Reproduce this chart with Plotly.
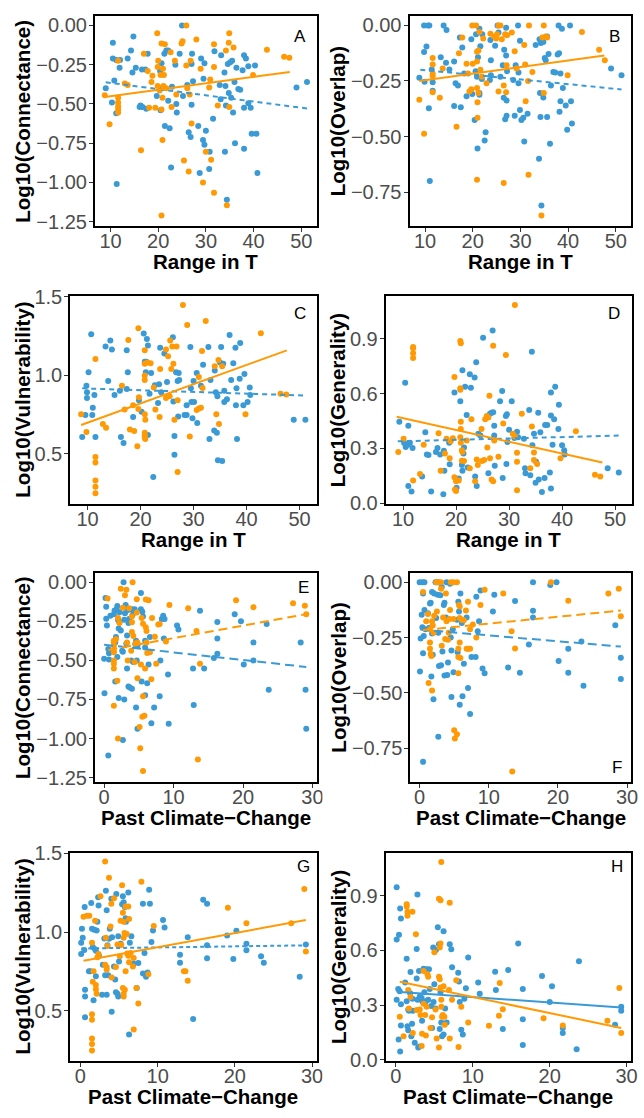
import plotly.graph_objects as go

BLUE = "#3A9AD6"
ORANGE = "#FF9A05"

# ---------------- data (x, y) ----------------
A_blue = [(9.0,-0.40),(10.5,-0.11),(10.5,-0.21),(11.2,-0.22),(10.8,-0.35),(10.3,-0.49),(11.2,-0.56),(11.3,-1.01),
(11.9,-0.27),(12.0,-0.22),(13.6,-0.21),(14.3,-0.16),(14.8,-0.07),(15.3,-0.27),(14.6,-0.30),(16.3,-0.51),(16.6,-0.28),
(16.1,-0.52),(17.3,-0.28),(17.8,-0.18),(17.5,-0.53),(19.7,-0.45),(20.4,-0.29),(20.7,-0.24),(20.5,-0.54),(20.7,-0.40),
(21.3,-0.18),(21.4,-0.64),(21.7,-0.16),(22.1,-0.48),(22.4,-0.655),(22.7,-0.905),(22.9,-0.39),(23.6,-0.25),(23.8,-0.50),
(23.9,-0.555),(24.5,-0.18),(25.0,0.0),(25.2,-0.45),(26.1,-0.38),(26.4,-0.68),(26.8,-0.71),(27.0,-0.505),(27.1,-0.18),
(27.3,-0.355),(27.0,-0.245),(28.4,-0.64),(28.7,-0.94),(29.0,-0.21),(29.4,-0.73),(29.7,-0.76),(30.0,-0.67),(29.7,-0.24),
(29.5,-0.34),(30.8,-0.805),(30.7,-0.915),(31.5,-0.595),(31.8,-0.165),(32.9,-0.38),(33.2,-0.19),(33.1,-0.47),(33.9,-0.30),
(34.1,-0.385),(34.0,-0.805),(34.2,-0.51),(34.4,-1.11),(34.6,-0.245),(34.8,-0.43),(35.1,-0.235),(35.3,-0.46),(35.5,-0.225),
(35.7,-0.555),(36.0,-0.36),(36.1,-0.75),(36.4,-0.27),(36.8,-0.405),(37.2,-0.41),(37.7,-0.285),(38.0,-0.19),(38.0,-0.525),
(38.0,-0.785),(38.4,-0.21),(38.9,-0.495),(39.4,-0.525),(39.6,-0.69),(40.6,-0.69),(40.3,-0.255),(40.8,-0.94),(38.9,-0.26),
(49.0,-0.395),(51.2,-0.36),(16.7,-0.52),(22.1,-0.16)]
A_orange = [(8.8,-0.445),(9.8,-0.63),(11.6,-0.46),(11.6,-0.515),(11.6,-0.535),(11.6,-0.555),(11.6,-0.49),(11.6,-0.225),
(13.0,-0.37),(13.6,-0.38),(16.4,-0.795),(17.0,-0.18),(17.8,-0.29),(18.1,-0.525),(18.6,-0.36),(18.8,-0.32),(19.4,-0.525),
(19.8,-0.05),(19.9,-0.265),(20.0,-0.225),(19.9,-0.385),(20.3,-0.415),(20.5,-0.315),(20.7,-0.115),(20.9,-0.73),(20.7,-1.21),
(20.7,-0.535),(20.9,-0.46),(21.0,-0.275),(21.4,-0.12),(21.2,-0.315),(21.1,-0.385),(21.7,-0.40),(22.6,-0.17),(22.8,-0.52),
(23.5,-0.225),(23.8,-0.44),(24.9,-0.115),(25.1,-0.10),(25.4,-0.86),(25.9,0.0),(25.9,-0.255),(26.1,-0.40),(26.4,-0.93),
(26.6,-0.44),(26.8,-0.225),(27.0,-0.625),(28.0,-0.09),(28.9,-0.275),(29.4,-1.0),(30.0,-0.805),(30.7,-0.395),(30.9,-0.345),
(31.1,-0.855),(31.7,-0.12),(31.7,-1.065),(31.7,-0.265),(32.5,-0.51),(34.2,-0.16),(34.4,-1.145),(34.8,-0.11),(34.9,-0.05),
(34.9,-0.52),(35.8,-0.14),(39.9,-0.315),(42.8,-0.155),(46.4,-0.20),(47.5,-0.205)]

B_blue = [(8.8,-0.235),(9.8,0),(10.6,0),(10.9,0),(9.8,-0.12),(10.3,-0.095),(9.9,-0.253),(10.8,-0.373),(11.0,-0.70),
(11.4,-0.198),(11.6,-0.256),(11.6,-0.294),(13.3,-0.143),(13.9,0),(14.5,-0.02),(14.4,-0.168),(15.1,-0.198),(16.1,-0.162),
(16.1,-0.363),(16.4,-0.26),(16.9,-0.27),(17.3,-0.054),(17.5,-0.368),(17.8,-0.099),(18.2,-0.216),(18.7,-0.319),(19.7,-0.062),
(19.9,-0.309),(20.4,-0.426),(20.7,-0.04),(20.6,-0.206),(20.9,-0.231),(21.0,-0.554),(21.1,-0.143),(21.4,-0.304),(21.4,-0.015),
(21.4,-0.312),(21.6,-0.094),(21.9,-0.241),(22.0,-0.04),(22.5,-0.518),(22.7,-0.481),(23.6,-0.246),(23.7,-0.065),(23.8,-0.157),
(23.8,-0.224),(24.7,-0.091),(25.2,0),(25.4,-0.032),(25.8,-0.231),(26.3,-0.179),(26.6,-0.109),(26.5,-0.326),(26.8,-0.422),
(27.0,-0.01),(27.1,-0.338),(27.0,-0.135),(27.2,-0.206),(27.1,-0.407),(28.5,-0.246),(28.8,-0.407),(29.0,-0.179),(29.5,0),
(29.6,-0.26),(29.6,-0.212),(29.9,-0.069),(29.9,-0.381),(30.2,-0.426),(30.6,-0.415),(30.8,-0.522),(31.5,-0.397),(33.2,-0.088),
(33.9,-0.60),(34.0,-0.062),(34.1,-0.304),(34.2,-0.412),(34.3,-0.079),(34.4,-0.81),(34.8,-0.324),(34.8,-0.074),(35.1,-0.147),
(35.3,-0.157),(35.6,-0.05),(35.6,-0.412),(35.9,-0.128),(36.2,-0.532),(36.4,-0.27),(36.9,-0.209),(37.3,-0.212),(37.8,-0.131),
(38.0,0),(38.1,-0.125),(38.2,-0.388),(38.4,-0.216),(38.4,-0.341),(38.7,-0.015),(38.9,-0.282),(39.5,-0.36),(39.8,-0.47),
(40.4,0),(40.6,-0.341),(40.8,-0.441),(49.0,-0.194),(51.2,-0.224)]
B_orange = [(8.8,-0.334),(9.8,-0.488),(11.6,-0.147),(11.6,-0.176),(11.6,-0.216),(11.6,-0.228),(11.6,-0.301),(13.1,-0.326),
(13.7,-0.194),(16.6,-0.456),(17.1,-0.125),(17.8,-0.054),(18.7,-0.172),(19.0,-0.216),(19.3,-0.297),(19.7,-0.287),(19.9,0),
(20.0,-0.172),(20.7,0),(20.9,-0.118),(20.9,-0.162),(20.9,-0.282),(21.0,-0.346),(21.0,-0.415),(20.9,-0.694),(21.2,-0.113),
(21.2,-0.304),(21.4,-0.029),(21.6,-0.199),(21.9,-0.231),(22.2,-0.059),(22.9,-0.26),(23.7,-0.037),(24.5,-0.05),(24.9,-0.059),
(25.1,-0.04),(25.4,0),(25.8,0),(25.4,-0.297),(26.1,-0.062),(26.5,-0.27),(26.5,-0.709),(26.8,-0.04),(27.1,-0.179),(27.2,-0.044),
(27.0,-0.301),(28.2,-0.032),(28.8,-0.116),(29.2,-0.194),(30.8,-0.088),(31.0,-0.176),(31.1,-0.341),(31.6,-0.25),(31.7,-0.672),
(31.8,0),(32.5,-0.209),(34.4,-0.856),(34.6,-0.054),(34.9,0),(34.9,-0.304),(35.3,-0.05),(35.6,-0.054),(39.9,-0.224),
(42.9,-0.029),(46.5,-0.109),(47.7,-0.157)]

C_blue = [(9.0,0.607),(9.6,0.747),(9.8,0.932),(9.9,0.891),(9.9,0.854),(10.2,1.019),(10.7,1.261),(10.9,0.747),(11.0,0.792),
(11.3,0.874),(11.5,0.607),(13.4,1.183),(13.9,0.963),(14.3,1.22),(14.6,1.163),(15.1,0.874),(16.1,0.901),(16.3,0.607),
(16.8,0.568),(17.4,1.158),(17.6,1.019),(17.4,0.912),(18.6,0.733),(19.7,0.84),(20.2,0.767),(20.6,1.265),(20.8,1.086),
(21.0,1.019),(21.1,1.086),(21.2,1.23),(21.4,1.189),(21.4,0.619),(21.7,0.881),(22.0,1.014),(22.4,0.352),(22.7,0.936),
(23.3,0.823),(23.5,0.942),(23.7,1.175),(23.9,0.891),(24.5,1.138),(25.0,0.957),(26.1,1.241),(26.2,0.833),(26.4,0.613),
(26.4,0.494),(26.7,1.019),(27.0,0.963),(27.1,0.737),(27.2,1.014),(27.3,0.969),(28.3,0.747),(28.7,0.747),(28.7,0.809),
(29.4,1.179),(29.5,0.916),(29.6,0.829),(29.8,0.726),(30.0,0.963),(30.1,0.829),(30.6,1.014),(30.7,0.695),(31.4,0.932),
(31.8,1.066),(32.8,1.179),(33.0,0.593),(33.2,0.969),(33.9,0.648),(34.0,1.029),(34.2,0.891),(34.4,0.634),(34.5,0.866),
(34.6,0.459),(35.0,1.08),(35.2,1.179),(35.4,0.453),(35.6,1.072),(35.8,0.901),(35.8,0.829),(36.3,0.846),(36.8,1.255),
(37.1,0.969),(37.5,1.076),(37.9,1.175),(38.0,0.809),(38.1,0.916),(38.2,0.593),(38.7,0.977),(38.8,1.204),(39.4,0.809),
(39.6,1.008),(40.2,0.829),(40.6,0.922),(40.7,0.874),(48.9,0.716),(51.1,0.716)]
C_orange = [(8.8,0.751),(9.8,0.638),(11.5,1.103),(11.5,0.479),(11.5,0.444),(11.5,0.329),(11.5,0.29),(11.5,0.249),
(12.9,0.689),(13.5,0.665),(16.5,0.932),(17.0,0.782),(17.7,1.224),(18.0,0.654),(18.8,0.644),(18.6,0.809),(19.4,0.547),
(19.6,1.298),(19.7,0.86),(19.6,0.784),(20.8,1.158),(20.8,1.072),(20.8,0.998),(20.8,0.969),(20.8,0.751),(20.9,0.716),
(20.8,0.634),(20.8,0.619),(20.8,0.603),(20.9,0.593),(21.3,1.08),(21.9,1.076),(22.5,0.922),(22.8,0.782),(23.7,1.039),
(23.6,0.733),(24.8,1.163),(24.8,0.854),(25.2,1.121),(25.5,0.866),(25.6,1.22),(25.8,1.039),(26.0,1.183),(26.2,1.072),
(26.4,0.716),(26.8,1.183),(27.0,0.84),(27.0,0.383),(28.0,1.446),(28.8,1.319),(29.3,0.609),(30.6,0.778),(31.0,0.788),
(31.0,0.988),(31.4,0.792),(31.6,1.154),(31.7,0.918),(32.3,1.344),(34.0,1.056),(34.3,0.751),(34.7,1.097),(34.8,0.689),
(35.4,1.056),(39.8,0.751),(42.7,1.267),(46.4,0.881),(47.5,0.877)]

D_blue = [(9.3,0.445),(10.2,0.329),(10.4,0.659),(10.5,0.307),(10.9,0.32),(11.0,0.423),(11.0,0.093),(11.3,0.33),(11.6,0.063),
(11.8,0.302),(13.6,0.146),(14.2,0.388),(14.5,0.266),(14.8,0.263),(15.3,0.063),(16.2,0.28),(16.5,0.302),(17.0,0.266),
(17.6,0.048),(17.7,0.286),(17.8,0.177),(18.7,0.33),(18.8,0.213),(19.7,0.605),(20.1,0.084),(20.5,0.134),(20.8,0.557),
(21.1,0.209),(21.2,0.177),(21.2,0.727),(21.5,0.304),(21.4,0.271),(21.7,0.637),(22.0,0.482),(22.2,0.195),(22.6,0.705),
(22.8,0.632),(23.5,0.688),(23.6,0.146),(23.8,0.771),(23.9,0.093),(24.2,0.379),(24.6,0.37),(25.1,0.905),(26.1,0.164),
(26.4,0.489),(26.7,0.495),(26.9,0.945),(27.0,0.498),(27.2,0.423),(27.2,0.37),(27.3,0.205),(28.3,0.557),(28.7,0.614),
(28.8,0.138),(29.4,0.477),(29.5,0.214),(29.6,0.486),(29.7,0.334),(30.0,0.402),(30.5,0.557),(31.0,0.357),(31.5,0.391),
(31.7,0.361),(32.8,0.352),(33.0,0.191),(33.1,0.164),(33.8,0.509),(34.0,0.152),(34.3,0.829),(34.4,0.316),(34.7,0.379),
(35.0,0.111),(35.1,0.227),(35.5,0.495),(35.6,0.129),(35.9,0.388),(36.2,0.061),(36.7,0.138),(36.8,0.427),(37.2,0.427),
(37.7,0.168),(37.9,0.48),(37.9,0.08),(37.9,0.605),(38.2,0.32),(38.5,0.459),(38.7,0.637),(39.3,0.405),(39.4,0.539),
(40.0,0.316),(40.4,0.289),(40.5,0.266),(48.6,0.191),(50.7,0.168)]
D_orange = [(9.1,0.28),(10.1,0.352),(11.9,0.855),(11.9,0.848),(11.9,0.82),(11.9,0.795),(11.9,0.123),(13.2,0.159),(13.9,0.32),
(16.7,0.382),(17.1,0.177),(17.9,0.271),(18.2,0.352),(18.8,0.245),(19.0,0.338),(19.4,0.355),(19.7,0.691),(19.7,0.141),
(19.8,0.075),(20.0,0.066),(20.0,0.12),(20.5,0.123),(20.8,0.888),(20.9,0.875),(20.8,0.629),(20.8,0.62),(20.9,0.445),
(20.9,0.405),(20.8,0.361),(20.9,0.33),(21.1,0.289),(21.2,0.28),(21.1,0.232),(21.5,0.23),(22.0,0.343),(22.6,0.191),
(22.9,0.459),(23.6,0.12),(23.9,0.239),(24.1,0.209),(24.8,0.405),(24.9,0.23),(25.3,0.236),(25.5,0.459),(25.8,0.477),
(25.9,0.304),(26.1,0.468),(26.3,0.588),(26.4,0.245),(26.7,0.129),(27.0,0.12),(27.0,0.861),(27.2,0.343),(28.0,0.254),
(28.9,0.436),(29.4,0.811),(30.7,0.379),(31.1,1.084),(31.1,0.364),(31.5,0.275),(31.5,0.227),(31.5,0.07),(32.4,0.489),
(34.0,0.191),(34.3,0.42),(34.7,0.277),(34.7,0.236),(35.3,0.214),(39.7,0.245),(42.6,0.393),(46.2,0.155),(47.2,0.146)]

E_blue = [(0.0,-0.49),(0.05,-0.71),(0.2,-0.10),(0.3,-0.156),(0.3,-0.233),(0.4,-0.277),(0.6,-0.427),(0.7,-0.454),(0.7,-0.494),
(0.6,-1.108),(0.9,-0.215),(1.4,-0.204),(1.5,-0.181),(1.6,-0.635),(1.8,-0.173),(1.6,-0.385),(1.7,-0.35),(1.9,-0.479),
(1.9,-0.152),(2.0,-0.24),(2.1,-0.296),(2.1,-0.74),(2.2,-0.256),(2.2,-0.192),(2.4,-0.308),(2.6,-0.4375),(2.7,-0.444),
(2.7,-1.01),(2.8,0.0),(2.9,-0.75),(2.9,-0.24),(3.0,-0.198),(3.1,-0.146),(3.2,-0.392),(3.3,-0.552),(3.3,-0.34),(3.4,-0.177),
(3.5,-0.26),(3.5,-0.667),(3.6,-0.235),(3.7,-0.173),(3.7,-0.673),(3.9,-0.5),(4.0,-0.681),(4.0,-0.173),(4.1,-0.208),
(4.2,-0.51),(4.4,-0.173),(4.5,-0.396),(4.6,-0.802),(4.6,-0.375),(4.7,-0.5),(4.8,-0.9375),(4.8,-0.406),(5.3,-0.069),
(5.3,-0.173),(5.4,-0.635),(5.5,-0.188),(5.6,-0.219),(5.9,-0.723),(5.9,-0.375),(5.9,-0.417),(6.2,-0.646),(6.4,-0.527),
(6.6,-0.35),(6.8,-0.902),(7.2,-0.802),(8.0,-0.729),(8.1,-0.5),(8.3,-0.235),(8.5,-0.215),(8.7,-0.235),(8.6,-0.36),
(9.2,-0.59),(9.3,-0.906),(10.5,-0.277),(10.7,-0.302),(12.8,-0.552),(12.9,-0.785),(13.8,-0.183),(14.4,-0.552),(15.8,-0.485),
(16.3,-0.254),(16.3,-0.36),(16.3,-0.458),(18.8,-0.204),(19.7,-0.25),(20.1,-0.527),(21.5,-0.385),(21.5,-0.5),(23.4,-0.267),
(23.7,-0.6875),(28.3,-0.385),(29.0,-0.6875),(29.1,-0.9375)]
E_orange = [(0.5,-0.104),(1.4,-0.79),(1.4,-0.375),(1.4,-0.385),(1.4,-0.406),(1.4,-0.4375),(1.4,-0.5),(1.4,-0.521),(1.4,-0.552),
(1.4,-0.448),(1.7,-0.365),(1.9,-0.631),(2.0,-1.0),(2.0,-0.229),(2.2,-0.26),(2.4,-0.042),(2.7,-0.163),(3.0,-0.083),
(3.2,-0.048),(3.3,-0.385),(3.4,-0.5),(3.6,-0.167),(3.9,-0.4375),(4.0,-0.219),(4.0,-0.256),(4.0,-0.319),(4.1,0.0),
(4.2,-0.344),(4.4,-0.51),(4.5,-0.392),(4.7,-0.108),(4.7,-0.194),(4.8,-0.385),(4.8,-0.615),(5.1,-0.927),(5.2,-1.0625),
(5.3,-0.527),(5.4,-0.229),(5.5,-0.86),(5.6,-1.208),(5.6,-0.265),(5.6,-0.729),(5.8,-0.854),(5.9,-0.552),(6.0,-0.288),
(6.1,-0.3125),(6.1,-0.385),(6.0,-0.11),(6.4,-0.115),(6.2,-0.452),(6.6,-0.448),(6.8,-0.621),(6.9,-0.229),(7.3,-0.348),
(7.5,-0.521),(7.8,-0.271),(8.0,-0.267),(8.9,-0.379),(9.4,-0.146),(12.1,-0.167),(13.3,-0.3125),(13.5,-1.135),(13.8,-0.521),
(19.0,-0.115),(21.5,-0.16),(27.2,-0.135),(28.9,-0.15),(29.1,-0.204)]

F_blue = [(0.0,0),(0.4,0),(0.7,0),(0.05,-0.404),(0.15,-0.254),(0.3,-0.147),(0.4,-0.203),(0.5,-0.051),(0.5,-0.812),
(0.5,-0.321),(0.6,-0.243),(0.7,-0.125),(0.85,-0.213),(1.2,-0.14),(1.4,-0.206),(1.5,-0.096),(1.6,-0.093),(1.7,-0.426),
(1.8,-0.232),(1.8,-0.044),(1.9,-0.328),(2.0,-0.529),(2.1,-0.051),(2.3,0),(2.5,0),(2.7,0),(2.4,-0.162),(2.6,-0.056),
(2.7,-0.699),(2.7,-0.228),(2.8,-0.379),(3.0,-0.059),(3.1,-0.375),(3.2,-0.022),(3.3,-0.313),(3.5,-0.103),(3.6,-0.422),
(3.6,-0.093),(3.8,-0.159),(3.9,0),(4.0,-0.419),(4.1,-0.363),(4.4,-0.007),(4.5,-0.25),(4.6,-0.309),(4.6,-0.519),(4.8,-0.213),
(4.9,-0.407),(5.4,-0.169),(5.5,-0.316),(5.6,-0.088),(5.7,-0.132),(5.8,-0.554),(5.9,-0.051),(6.1,-0.184),(6.2,-0.515),
(6.4,-0.368),(6.8,-0.159),(7.0,-0.478),(7.3,-0.596),(7.5,-0.338),(8.1,-0.338),(8.2,-0.066),(8.4,-0.221),(8.6,-0.176),
(8.8,-0.037),(9.1,-0.39),(9.4,-0.412),(10.6,-0.132),(10.8,-0.056),(12.8,-0.385),(13.8,-0.085),(14.5,-0.409),(15.8,-0.282),
(16.4,0),(16.4,-0.129),(16.4,-0.159),(18.9,-0.012),(19.8,0),(20.1,-0.356),(21.5,-0.301),(21.5,-0.409),(23.4,-0.268),
(23.7,-0.468),(28.3,-0.194),(29.1,-0.341),(29.1,-0.438)]
F_orange = [(0.5,-0.044),(0.95,-0.176),(1.2,-0.144),(1.3,-0.456),(1.5,-0.213),(1.5,-0.272),(1.5,-0.301),(1.6,-0.324),
(1.7,-0.334),(1.8,-0.49),(1.8,-0.176),(1.9,-0.196),(2.0,-0.228),(2.1,-0.151),(2.4,0),(2.5,-0.132),(2.7,0),(3.1,0),
(3.1,-0.029),(3.2,-0.287),(3.4,-0.159),(3.7,-0.257),(3.8,-0.051),(3.9,-0.176),(4.1,-0.26),(4.2,-0.228),(4.3,-0.166),
(4.4,-0.125),(4.5,0),(4.9,0),(5.4,0),(4.9,-0.166),(5.0,-0.669),(5.1,-0.706),(5.4,-0.687),(5.6,-0.301),(5.6,-0.412),
(5.6,-0.338),(5.7,-0.103),(5.8,-0.11),(5.8,-0.162),(5.8,-0.272),(5.9,-0.343),(6.1,-0.169),(6.4,-0.172),(6.7,-0.128),
(6.8,-0.301),(7.0,-0.301),(7.3,-0.301),(7.0,-0.088),(7.3,-0.213),(7.7,-0.191),(8.2,-0.25),(8.8,-0.103),(9.4,-0.034),
(12.1,-0.051),(13.3,-0.221),(13.4,-0.856),(13.8,-0.299),(19.0,0),(21.5,-0.084),(27.3,-0.051),(28.8,-0.029),(29.1,-0.154)]

G_blue = [(0.1,0.86),(0.1,0.932),(0.2,1.021),(0.3,0.963),(0.5,0.886),(0.55,1.159),(0.6,0.632),(0.6,0.457),(0.6,0.59),
(1.1,0.75),(1.3,0.75),(1.4,1.184),(1.5,1.021),(1.6,0.905),(1.7,0.566),(1.8,1.014),(1.9,0.89),(2.0,0.88),(2.0,0.719),
(2.1,1.01),(2.2,1.066),(2.3,1.221),(2.35,1.169),(2.4,0.849),(2.8,0.601),(2.9,0.791),(3.1,0.959),(3.2,0.725),(3.3,1.262),
(3.4,0.601),(3.4,1.138),(3.5,0.915),(3.6,0.725),(3.7,0.957),(3.8,1.021),(4.0,1.211),(4.05,0.492),(4.1,0.967),(4.35,0.781),
(4.5,0.698),(4.6,0.616),(4.65,1.242),(4.8,0.607),(4.9,0.973),(4.9,0.59),(5.0,0.812),(5.2,0.926),(5.4,1.176),(5.5,1.227),
(5.6,1.19),(5.75,1.159),(5.85,1.087),(5.9,1.066),(6.2,1.252),(6.3,0.347),(6.4,0.932),(6.6,0.973),(6.9,0.798),(7.3,0.643),
(7.5,0.802),(8.1,1.18),(8.1,0.736),(8.3,0.866),(8.5,0.715),(8.7,0.742),(8.9,1.269),(9.0,1.18),(9.2,0.936),(9.4,1.01),
(10.7,1.076),(10.9,1.029),(12.9,0.855),(12.9,0.804),(13.9,0.967),(14.6,0.446),(15.9,1.205),(16.4,1.18),(16.4,0.915),
(16.4,0.833),(19.0,0.977),(19.8,0.829),(20.2,1.008),(21.5,0.926),(21.5,0.884),(23.4,0.845),(23.75,0.804),(28.4,0.715),
(29.2,0.921)]
G_orange = [(0.4,1.097),(0.85,1.103),(1.15,1.103),(1.5,0.932),(1.6,0.684),(1.5,0.477),(1.5,0.442),(1.5,0.322),(1.5,0.287),
(1.5,0.246),(1.7,0.75),(1.9,1.072),(2.0,0.663),(2.0,0.636),(2.1,0.607),(2.2,0.839),(2.35,0.86),(2.6,1.227),(3.2,1.448),
(3.2,0.791),(3.3,0.963),(3.4,0.777),(3.4,0.762),(3.5,0.911),(3.7,1.345),(3.9,1.035),(4.0,1.18),(4.05,0.711),(4.35,1.215),
(4.6,0.777),(4.8,0.921),(5.1,0.845),(5.2,1.072),(5.3,0.917),(5.4,1.298),(5.5,0.643),(5.5,1.122),(5.6,1.066),(5.6,0.963),
(5.6,0.607),(5.6,0.59),(5.7,0.994),(5.75,0.632),(5.85,1.163),(5.85,0.75),(6.0,0.988),(6.05,0.864),(6.2,0.849),(6.2,1.163),
(6.3,1.083),(6.3,0.808),(6.5,0.866),(6.8,0.781),(6.9,0.835),(6.9,0.38),(7.25,0.643),(7.5,0.545),(7.9,1.32),(8.8,0.731),
(9.5,1.039),(13.4,0.75),(13.6,0.75),(13.9,0.69),(19.1,1.155),(21.5,1.056),(27.3,1.056),(29.0,1.273),(29.2,0.876)]

H_blue = [(0.1,0.945),(0.1,0.66),(0.1,0.33),(0.3,0.389),(0.35,0.112),(0.4,0.686),(0.5,0.376),(0.55,0.829),(0.65,0.775),
(0.65,0.305),(0.65,0.189),(0.55,0.046),(1.2,0.424),(1.4,0.554),(1.4,0.321),(1.5,0.184),(1.6,0.162),(1.6,0.276),(1.7,0.269),
(1.85,0.365),(1.9,0.481),(2.0,0.13),(2.1,0.198),(2.15,0.335),(2.2,0.269),(2.45,0.094),(2.7,0.608),(2.7,0.446),(2.8,0.33),
(2.8,0.906),(2.9,0.068),(3.0,0.487),(3.1,0.348),(3.1,0.073),(3.2,0.33),(3.35,0.339),(3.4,0.214),(3.5,0.317),(3.6,0.499),
(3.7,0.371),(3.9,0.321),(4.0,0.496),(4.2,0.33),(4.3,0.496),(4.4,0.389),(4.6,0.296),(4.7,0.175),(4.85,0.615),(4.9,0.317),
(5.0,0.415),(5.15,0.282),(5.2,0.602),(5.45,0.727),(5.6,0.633),(5.7,0.169),(5.8,0.371),(5.9,0.205),(6.0,0.13),(6.2,0.704),
(6.2,0.139),(6.4,0.282),(6.6,0.205),(7.0,0.633),(7.2,0.606),(7.3,0.508),(8.1,0.478),(8.2,0.43),(8.3,0.317),(8.5,0.166),
(8.7,0.139),(8.9,0.335),(9.1,0.392),(9.4,0.561),(10.7,0.424),(10.9,0.362),(12.9,0.483),(13.0,0.383),(13.9,0.169),
(14.6,0.492),(15.9,0.638),(16.5,0.389),(16.5,0.223),(16.5,0.082),(19.0,0.46),(20.0,0.317),(20.3,0.403),(21.7,0.175),
(21.7,0.148),(23.5,0.059),(23.8,0.54),(28.5,0.193),(29.3,0.291),(29.3,0.269)]
H_orange = [(0.5,0.237),(1.0,0.13),(1.4,0.852),(1.4,0.84),(1.5,0.811),(1.5,0.79),(1.7,0.282),(1.6,0.383),(1.9,0.344),
(2.15,0.811),(2.2,0.148),(2.6,0.688),(2.7,0.273),(3.1,0.276),(3.2,0.246),(3.35,0.077),(3.4,0.143),(3.6,0.308),(3.6,0.487),
(3.8,0.246),(3.9,0.134),(4.0,0.291),(4.1,0.469),(4.2,0.456),(4.5,0.175),(4.7,0.234),(5.0,0.59),(5.15,0.276),(5.3,0.118),
(5.6,0.068),(5.6,0.455),(5.7,0.442),(5.6,0.882),(5.8,0.875),(5.7,0.615),(5.8,0.638),(5.8,0.397),(5.9,0.33),(5.9,1.084),
(5.9,0.291),(6.0,0.237),(6.1,0.246),(6.2,0.403),(6.3,0.237),(6.35,0.193),(6.9,0.383),(7.0,0.861),(7.0,0.118),(7.3,0.33),
(7.85,0.437),(8.15,0.071),(8.5,0.291),(9.4,0.205),(12.1,0.187),(13.4,0.242),(13.5,0.421),(13.9,0.278),(19.2,0.228),
(21.7,0.189),(27.5,0.214),(29.05,0.394),(29.3,0.148)]

# fitted trend lines: ([x_start, x_end], [y_start, y_end])
A_blue_fit = ([9.0, 51.2], [-0.362, -0.529]);   A_orange_fit = ([8.8, 47.6], [-0.456, -0.296])
B_blue_fit = ([9.0, 51.2], [-0.199, -0.288]);   B_orange_fit = ([8.8, 47.6], [-0.250, -0.135])
C_blue_fit = ([9.0, 51.2], [0.916, 0.870]);     C_orange_fit = ([8.8, 47.6], [0.683, 1.158])
D_blue_fit = ([9.0, 51.2], [0.338, 0.370]);     D_orange_fit = ([8.8, 47.6], [0.473, 0.222])
E_blue_fit = ([0.0, 29.1], [-0.400, -0.542]);   E_orange_fit = ([0.6, 29.1], [-0.433, -0.204])
F_blue_fit = ([0.1, 29.1], [-0.214, -0.291]);   F_orange_fit = ([0.5, 29.1], [-0.216, -0.128])
G_blue_fit = ([0.1, 29.2], [0.895, 0.915]);     G_orange_fit = ([0.4, 29.2], [0.817, 1.076])
H_blue_fit = ([0.1, 29.3], [0.374, 0.287]);     H_orange_fit = ([0.5, 29.3], [0.428, 0.175])

x_title_T = "Range in T"
x_title_C = "Past Climate\u2212Change"
y_titles = {"Con": "Log10(Connectance)", "Ovl": "Log10(Overlap)",
            "Vul": "Log10(Vulnerability)", "Gen": "Log10(Generality)"}
ticks_T = [10, 20, 30, 40, 50]
ticks_C = [0, 10, 20, 30]
ticks_con = [0, -0.25, -0.5, -0.75, -1.0, -1.25]
ticks_ovl = [0, -0.25, -0.5, -0.75]
ticks_vul = [0.5, 1.0, 1.5]
ticks_gen = [0.0, 0.3, 0.6, 0.9]

# ---------------- layout geometry (page pixels) ----------------
W, H = 644, 1118
DASH_S = "5px,4px"
DASH_L = "9px,5px"
panels = [
    ("A", (96, 320, 6, 220), A_blue, A_orange, A_blue_fit, A_orange_fit, DASH_S, "solid", [6.74, 53.2], [-1.278, 0.061], ticks_T, ticks_con, ".2f", x_title_T, "Con", (0.925, 0.90)),
    ("B", (414, 638, 6, 220), B_blue, B_orange, B_blue_fit, B_orange_fit, DASH_S, "solid", [6.74, 53.2], [-0.903, 0.043], ticks_T, ticks_ovl, ".2f", x_title_T, "Ovl", (0.924, 0.903)),
    ("C", (71, 320, 291, 503), C_blue, C_orange, C_blue_fit, C_orange_fit, DASH_S, "solid", [6.74, 53.2], [0.18, 1.505], ticks_T, ticks_vul, ".1f", x_title_T, "Vul", (0.933, 0.914)),
    ("D", (390, 639, 291, 503), D_blue, D_orange, D_blue_fit, D_orange_fit, DASH_S, "solid", [6.74, 53.2], [-0.005, 1.135], ticks_T, ticks_gen, ".1f", x_title_T, "Gen", (0.928, 0.914)),
    ("E", (96, 320, 573, 786), E_blue, E_orange, E_blue_fit, E_orange_fit, DASH_L, DASH_L, [-1.32, 30.58], [-1.278, 0.061], ticks_C, ticks_con, ".2f", x_title_C, "Con", (0.94, 0.928)),
    ("F", (415, 638, 573, 786), F_blue, F_orange, F_blue_fit, F_orange_fit, DASH_L, DASH_L, [-1.32, 30.58], [-0.903, 0.043], ticks_C, ticks_ovl, ".2f", x_title_C, "Ovl", (0.936, 0.067)),
    ("G", (71, 320, 858, 1070), G_blue, G_orange, G_blue_fit, G_orange_fit, "4px,3px", "solid", [-1.32, 30.58], [0.18, 1.505], ticks_C, ticks_vul, ".1f", x_title_C, "Vul", (0.949, 0.935)),
    ("H", (390, 638, 858, 1070), H_blue, H_orange, H_blue_fit, H_orange_fit, "solid", "solid", [-1.32, 30.58], [-0.005, 1.135], ticks_C, ticks_gen, ".1f", x_title_C, "Gen", (0.942, 0.935)),
]

FONT = "Liberation Sans, Arial, sans-serif"
fig = go.Figure()
annotations = []
layout = {}

for i, (letter, box, blue, orange, bfit, ofit, bdash, odash, xr, yr, xt, yt, fmt, xtitle, ykey, lpos) in enumerate(panels, start=1):
    l, r, t, b = box
    xa = "x" if i == 1 else f"x{i}"
    ya = "y" if i == 1 else f"y{i}"
    for pts, col in ((blue, BLUE), (orange, ORANGE)):
        fig.add_trace(go.Scatter(x=[p[0] for p in pts], y=[p[1] for p in pts], mode="markers",
                                 marker=dict(color=col, size=6, line=dict(width=0)),
                                 xaxis=xa, yaxis=ya, showlegend=False, hoverinfo="skip"))
    for fit, col, dash in ((bfit, BLUE, bdash), (ofit, ORANGE, odash)):
        fig.add_trace(go.Scatter(x=fit[0], y=fit[1], mode="lines",
                                 line=dict(color=col, width=2, dash=dash),
                                 xaxis=xa, yaxis=ya, showlegend=False, hoverinfo="skip"))
    common = dict(showline=True, mirror=True, linecolor="black", linewidth=2,
                  ticks="outside", ticklen=4, tickwidth=1, tickcolor="#333333",
                  showgrid=False, zeroline=False, fixedrange=True,
                  tickfont=dict(family=FONT, size=20, color="#4D4D4D"))
    layout["xaxis" if i == 1 else f"xaxis{i}"] = dict(
        domain=[l / W, r / W], range=xr, anchor=ya, tickmode="array", tickvals=xt,
        ticktext=[str(v) for v in xt], ticklabelstandoff=-8, **common)
    layout["yaxis" if i == 1 else f"yaxis{i}"] = dict(
        domain=[1 - b / H, 1 - t / H], range=yr, anchor=xa, tickmode="array", tickvals=yt,
        tickformat=fmt, ticklabelstandoff=-2, **common)
    annotations.append(dict(text=letter, xref=f"{xa} domain", yref=f"{ya} domain", x=lpos[0], y=lpos[1],
                            showarrow=False, xanchor="center", yanchor="middle",
                            font=dict(family=FONT, size=17, color="black")))
    annotations.append(dict(text=f"<b>{xtitle}</b>", xref="paper", yref="paper",
                            x=(l + r) / 2 / W, y=1 - (b + 36) / H, showarrow=False,
                            xanchor="center", yanchor="middle",
                            font=dict(family=FONT, size=20.5, color="black")))
    ytx = 23 if l < 200 else 342
    annotations.append(dict(text=f"<b>{y_titles[ykey]}</b>", xref="paper", yref="paper",
                            x=ytx / W, y=1 - (t + b) / 2 / H, showarrow=False, textangle=-90,
                            xanchor="center", yanchor="middle",
                            font=dict(family=FONT, size=20.5, color="black")))

# white cover where the right-hand panel's background hides overflowing x tick labels
shapes = []
for (yt0, yt1) in ((788, 808), (1072, 1092)):
    shapes.append(dict(type="rect", xref="paper", yref="paper", x0=326 / W, x1=346 / W,
                       y0=1 - yt1 / H, y1=1 - yt0 / H, fillcolor="white", line=dict(width=0), layer="above"))

fig.update_layout(width=W, height=H, margin=dict(l=0, r=0, t=0, b=0),
                  paper_bgcolor="white", plot_bgcolor="white",
                  font=dict(family=FONT), annotations=annotations, shapes=shapes, **layout)
fig.write_html("out.html")
